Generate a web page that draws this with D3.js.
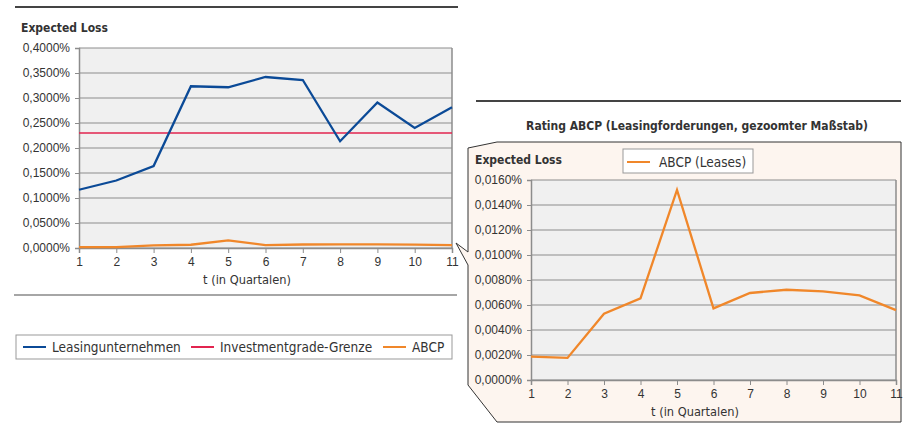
<!DOCTYPE html>
<html>
<head>
<meta charset="utf-8">
<script src="https://cdn.jsdelivr.net/npm/d3@7"></script>
<style>
  body { margin: 0; background: #fff; }
  svg { display: block; font-family: "DejaVu Sans Condensed", "DejaVu Sans", sans-serif; }
  .tick text { fill: #333; font-size: 12px; }
  .lbl { fill: #333; font-size: 12.7px; }
  .leg { fill: #333; font-size: 13.5px; }
  .ttl { fill: #333; font-size: 12px; font-weight: bold; }
</style>
</head>
<body>
<svg id="chart" width="905" height="423"></svg>
<script>
var quarters = [1, 2, 3, 4, 5, 6, 7, 8, 9, 10, 11];
var leasing = [0.1165, 0.135, 0.164, 0.3235, 0.3215, 0.342, 0.336, 0.2135, 0.291, 0.240, 0.2815];
var gradeLimit = 0.23;
var abcp = [0.00187, 0.00177, 0.0053, 0.00653, 0.0152, 0.00573, 0.00696, 0.00722, 0.00709, 0.00677, 0.00559];
var leftTicks = [0, 0.05, 0.1, 0.15, 0.2, 0.25, 0.3, 0.35, 0.4];
var rightTicks = [0, 0.002, 0.004, 0.006, 0.008, 0.01, 0.012, 0.014, 0.016];
var legendLeft = ['Leasingunternehmen', 'Investmentgrade-Grenze', 'ABCP'];

var blue = '#0b4a97';
var red = '#e2244f';
var orange = '#f0872a';
var gridColor = '#8c8c8c';

var svg = d3.select('#chart');
var fmt = function(d) { return d.toFixed(4).replace('.', ',') + '%'; };

// decorative rules
svg.append('line').attr('x1', 15).attr('x2', 458).attr('y1', 7).attr('y2', 7)
  .attr('stroke', '#444').attr('stroke-width', 2);
svg.append('line').attr('x1', 14).attr('x2', 457).attr('y1', 295).attr('y2', 295)
  .attr('stroke', '#888').attr('stroke-width', 1.5);
svg.append('line').attr('x1', 476).attr('x2', 901).attr('y1', 101).attr('y2', 101)
  .attr('stroke', '#444').attr('stroke-width', 2);

// callout box
svg.append('path')
  .attr('d', 'M468,148 L497,142 L901,142 L901,422 L497,422 L468,385 L468,265 L456,243 L468,252 Z')
  .attr('fill', '#fdf5ef').attr('stroke', '#333').attr('stroke-width', 1);

function drawPlot(g, opts) {
  var x = d3.scaleLinear().domain([1, 11]).range([opts.x0, opts.x1]);
  var y = d3.scaleLinear().domain([0, opts.max]).range([opts.y1, opts.y0]);
  g.append('rect').attr('x', opts.x0).attr('y', opts.y0)
    .attr('width', opts.x1 - opts.x0).attr('height', opts.y1 - opts.y0)
    .attr('fill', '#f0f0f0');
  g.selectAll('.grid').data(opts.ticks).enter().append('line')
    .attr('x1', opts.x0).attr('x2', opts.x1)
    .attr('y1', function(d) { return y(d); }).attr('y2', function(d) { return y(d); })
    .attr('stroke', gridColor).attr('stroke-width', 1);
  g.append('line').attr('x1', opts.x1).attr('x2', opts.x1).attr('y1', opts.y0).attr('y2', opts.y1)
    .attr('stroke', gridColor).attr('stroke-width', 1.5);

  var yAxis = g.append('g').attr('transform', 'translate(' + opts.x0 + ',0)')
    .call(d3.axisLeft(y).tickValues(opts.ticks).tickFormat(fmt).tickSize(4).tickPadding(5));
  var xAxis = g.append('g').attr('transform', 'translate(0,' + opts.y1 + ')')
    .call(d3.axisBottom(x).tickValues(quarters).tickFormat(d3.format('d')).tickSize(5).tickPadding(4));
  [yAxis, xAxis].forEach(function(a) {
    a.select('.domain').attr('stroke', gridColor).attr('stroke-width', 1.5);
    a.selectAll('.tick line').attr('stroke', gridColor);
    a.selectAll('.tick text').attr('font-family', null).attr('font-size', null);
  });
  g.append('text').attr('class', 'lbl')
    .attr('x', opts.xTitleX).attr('y', opts.y1 + 36)
    .attr('text-anchor', 'middle').text('t (in Quartalen)');
  g.append('text').attr('class', 'ttl')
    .attr('x', opts.titleX).attr('y', opts.y0 - 16).text('Expected Loss');
  return { x: x, y: y };
}

function drawLine(g, sc, values, color) {
  var line = d3.line()
    .x(function(d, i) { return sc.x(quarters[i]); })
    .y(function(d) { return sc.y(d); });
  g.append('path').datum(values).attr('d', line)
    .attr('fill', 'none').attr('stroke', color).attr('stroke-width', 2.3)
    .attr('stroke-linejoin', 'miter');
}

// left chart
var gl = svg.append('g');
var sl = drawPlot(gl, { x0: 79, x1: 452, y0: 48, y1: 248, max: 0.4, ticks: leftTicks, xTitleX: 247, titleX: 21 });
gl.append('line').attr('x1', sl.x(1)).attr('x2', sl.x(11))
  .attr('y1', sl.y(gradeLimit)).attr('y2', sl.y(gradeLimit))
  .attr('stroke', red).attr('stroke-width', 1.6);
drawLine(gl, sl, leasing, blue);
drawLine(gl, sl, abcp, orange);

// left legend
var lg = svg.append('g');
lg.append('rect').attr('x', 16).attr('y', 335).attr('width', 436).attr('height', 24)
  .attr('fill', '#fff').attr('stroke', '#999');
var legX = [23, 191, 383];
var legColors = [blue, red, orange];
legendLeft.forEach(function(name, i) {
  lg.append('line').attr('x1', legX[i]).attr('x2', legX[i] + 23).attr('y1', 347).attr('y2', 347)
    .attr('stroke', legColors[i]).attr('stroke-width', 2);
  lg.append('text').attr('class', 'leg').attr('x', legX[i] + 29).attr('y', 352).text(name);
});

// right chart
svg.append('text').attr('class', 'ttl').attr('x', 697).attr('y', 130)
  .attr('text-anchor', 'middle').text('Rating ABCP (Leasingforderungen, gezoomter Maßstab)');
var gr = svg.append('g');
var sr = drawPlot(gr, { x0: 531, x1: 896, y0: 180, y1: 380, max: 0.016, ticks: rightTicks, xTitleX: 695, titleX: 475 });
drawLine(gr, sr, abcp, orange);

var rg = svg.append('g');
rg.append('rect').attr('x', 623).attr('y', 149).attr('width', 130).attr('height', 24)
  .attr('fill', '#fff').attr('stroke', '#999');
rg.append('line').attr('x1', 627).attr('x2', 650).attr('y1', 162).attr('y2', 162)
  .attr('stroke', orange).attr('stroke-width', 2);
rg.append('text').attr('class', 'leg').attr('x', 659).attr('y', 166.5).text('ABCP (Leases)');
</script>
</body>
</html>
